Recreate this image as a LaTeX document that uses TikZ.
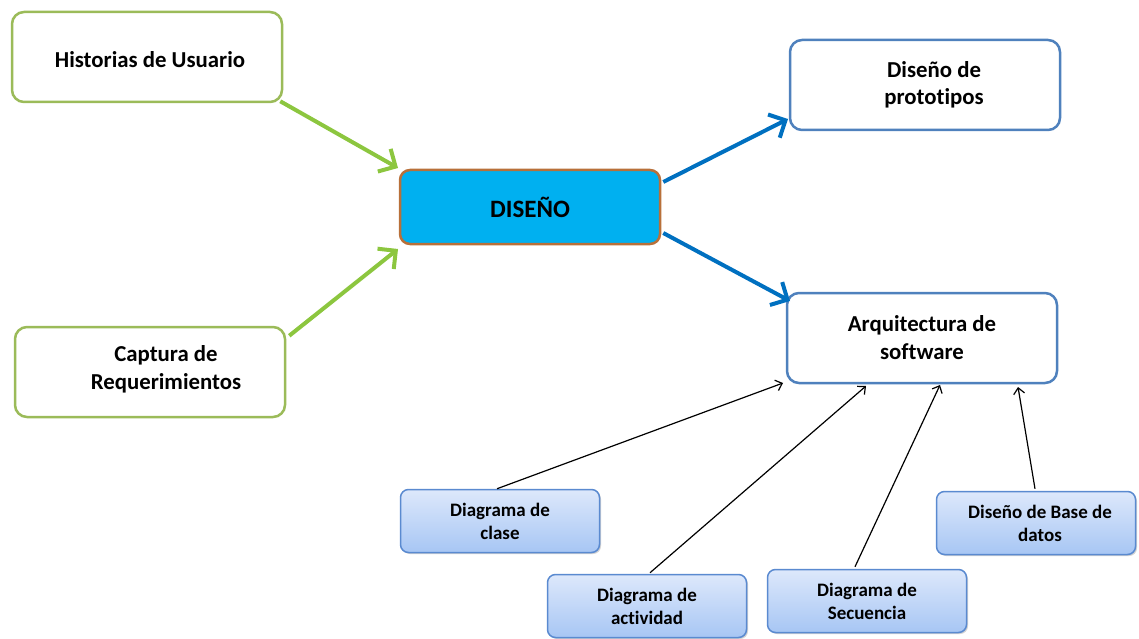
\documentclass[tikz,border=0pt]{standalone}
\usepackage{fontspec}
\setmainfont{Carlito}[Ligatures=NoCommon]
\usetikzlibrary{arrows.meta,shadows}
\definecolor{grn}{HTML}{8CC63F}
\definecolor{gbord}{HTML}{9BBB59}
\definecolor{bl}{HTML}{0070C0}
\definecolor{bbord}{HTML}{4F81BD}
\definecolor{cyanfill}{HTML}{00B0F0}
\definecolor{brown}{HTML}{B8703A}
\definecolor{ltop}{HTML}{DDE8FB}
\definecolor{lbot}{HTML}{A7C6F4}
\definecolor{sbord}{HTML}{5A8AD0}
\tikzset{
  greenbox/.style={draw=gbord,line width=2.5pt,rounded corners=12pt,fill=white,minimum width=270pt,minimum height=90pt,align=center,font=\bfseries\fontsize{22.8}{28}\selectfont},
  bluebox/.style={draw=bbord,line width=2.5pt,rounded corners=12pt,fill=white,minimum width=270pt,minimum height=90pt,align=center,font=\bfseries\fontsize{22.8}{28}\selectfont},
  mainbox/.style={draw=brown,line width=2.5pt,rounded corners=10pt,fill=cyanfill,minimum width=260pt,minimum height=74pt,align=center,font=\bfseries\fontsize{25}{30}\selectfont},
  smallbox/.style={draw=sbord,line width=1.5pt,rounded corners=8pt,top color=ltop,bottom color=lbot,minimum width=199pt,minimum height=63pt,align=center,font=\bfseries\fontsize{19}{23}\selectfont,drop shadow={shadow xshift=1.5pt,shadow yshift=-1.5pt,fill=black!35,opacity=.5}},
  lbl/.style={align=center,inner sep=0pt},
  garrow/.style={draw=grn,line width=4pt,-{Straight Barb[length=13pt,width=26pt,line width=4pt]}},
  barrow/.style={draw=bl,line width=4pt,-{Straight Barb[length=13pt,width=26pt,line width=4pt]}},
  karrow/.style={draw=black,line width=1.2pt,-{Straight Barb[length=6pt,width=11pt,line width=1.2pt]}}
}
\begin{document}
\begin{tikzpicture}[x=1pt,y=-1pt]
\useasboundingbox (0,0) rectangle (1139,639);
\node[greenbox] (hist) at (147,57) {};
\node[lbl,font=\bfseries\fontsize{22.8}{28}\selectfont] (histt) at (150,60) {Historias de Usuario};
\node[greenbox] (capt) at (150,372) {};
\node[lbl,font=\bfseries\fontsize{22.8}{28}\selectfont] (captt) at (166,369) {Captura de\\Requerimientos};
\node[mainbox] (dis) at (530,207) {DISEÑO};
\node[bluebox] (proto) at (925,85) {};
\node[lbl,font=\bfseries\fontsize{22.8}{27}\selectfont] (protot) at (934,85) {Diseño de\\prototipos};
\node[bluebox] (arq) at (922,338) {Arquitectura de\\software};
\node[smallbox] (clase) at (500,521) {Diagrama de\\clase};
\node[smallbox] (activ) at (647,606) {Diagrama de\\actividad};
\node[smallbox] (secu) at (867,601) {Diagrama de\\Secuencia};
\node[smallbox] (base) at (1036,523) {};
\node[lbl,font=\bfseries\fontsize{19}{23}\selectfont] (baset) at (1040,523) {Diseño de Base de\\datos};
\coordinate (a1) at (398,168);
\coordinate (a2) at (398,249);
\coordinate (b1) at (788,119);
\coordinate (b2) at (790,301);
\draw[garrow] (hist.south east) ++(-3,-2) -- (a1);
\draw[garrow] (capt.north east) ++(3,10) -- (a2);
\draw[barrow] (dis.east) ++(2,-25) -- (b1);
\draw[barrow] (dis.east) ++(2,26) -- (b2);
\coordinate (c1) at (783,383);
\coordinate (c2) at (866,386);
\coordinate (c3) at (940,385);
\coordinate (c4) at (1018,387);
\draw[karrow] (clase.north) ++(-3,0) -- (c1);
\draw[karrow] (activ.north) ++(3,-1) -- (c2);
\draw[karrow] (secu.north) ++(-12,-2) -- (c3);
\draw[karrow] (base.north) ++(-1,-2) -- (c4);
\end{tikzpicture}
\end{document}
